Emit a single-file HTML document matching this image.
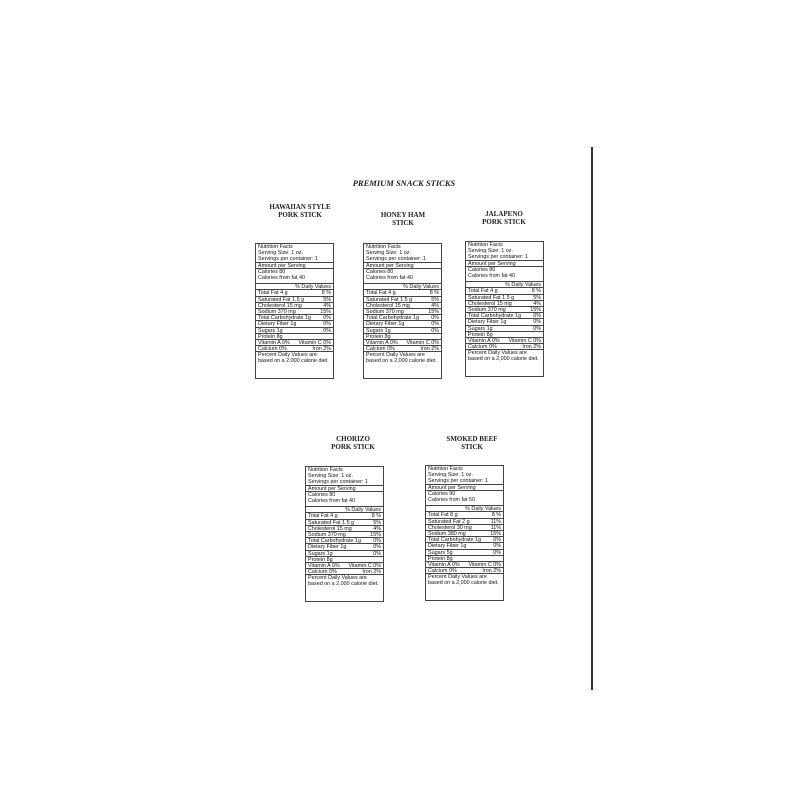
<!DOCTYPE html>
<html><head><meta charset="utf-8"><style>
body{margin:0;width:800px;height:800px;background:#fff;position:relative;overflow:hidden;font-family:"Liberation Sans",sans-serif;color:#111}
.t{position:absolute;font-family:"Liberation Serif",serif;font-weight:bold;font-size:7px;text-align:center;line-height:8px;color:#222;width:120px}
.box{position:absolute;width:77px;border:1px solid #444;font-size:5.4px;line-height:6px;color:#111}
.box div{border-bottom:1px solid #444;padding:0 2px;height:5.2px;white-space:nowrap;overflow:hidden;display:flex;justify-content:space-between}
.box div.h{height:18px;display:block;white-space:normal}
.box div.c{height:14px;display:block}
.box div.r{justify-content:flex-end}
.box div.e{border:none;height:26px;display:block;white-space:normal}
</style></head><body>
<div style="position:absolute;left:304px;top:178px;width:200px;text-align:center;font-family:'Liberation Serif',serif;font-weight:bold;font-style:italic;font-size:8.5px;color:#222">PREMIUM SNACK STICKS</div>
<div style="position:absolute;left:591px;top:147px;width:1.5px;height:543px;background:#333"></div>

<div class="t" style="left:240px;top:203px">HAWAIIAN STYLE<br>PORK STICK</div>
<div class="t" style="left:343px;top:211px">HONEY HAM<br>STICK</div>
<div class="t" style="left:444px;top:210px">JALAPENO<br>PORK STICK</div>
<div class="t" style="left:293px;top:435px">CHORIZO<br>PORK STICK</div>
<div class="t" style="left:412px;top:435px">SMOKED BEEF<br>STICK</div>

<div class="box" style="left:255px;top:243px">
<div class="h">Nutrition Facts<br>Serving Size: 1 oz.<br>Servings per container: 1</div>
<div>Amount per Serving</div>
<div class="c">Calories 80<br>Calories from fat 40</div>
<div class="r">% Daily Values</div>
<div><span>Total Fat 4 g</span><span>8 %</span></div>
<div><span>Saturated Fat 1.5 g</span><span>5%</span></div>
<div><span>Cholesterol 15 mg</span><span>4%</span></div>
<div><span>Sodium 370 mg</span><span>15%</span></div>
<div><span>Total Carbohydrate 1g</span><span>0%</span></div>
<div><span>Dietary Fiber 1g</span><span>0%</span></div>
<div><span>Sugars 1g</span><span>0%</span></div>
<div>Protein 8g</div>
<div><span>Vitamin A 0%</span><span>Vitamin C 0%</span></div>
<div><span>Calcium 0%</span><span>Iron 2%</span></div>
<div class="e">Percent Daily Values are based on a 2,000 calorie diet.</div>
</div>

<div class="box" style="left:363px;top:243px">
<div class="h">Nutrition Facts<br>Serving Size: 1 oz.<br>Servings per container: 1</div>
<div>Amount per Serving</div>
<div class="c">Calories 80<br>Calories from fat 40</div>
<div class="r">% Daily Values</div>
<div><span>Total Fat 4 g</span><span>8 %</span></div>
<div><span>Saturated Fat 1.5 g</span><span>5%</span></div>
<div><span>Cholesterol 15 mg</span><span>4%</span></div>
<div><span>Sodium 370 mg</span><span>15%</span></div>
<div><span>Total Carbohydrate 1g</span><span>0%</span></div>
<div><span>Dietary Fiber 1g</span><span>0%</span></div>
<div><span>Sugars 1g</span><span>0%</span></div>
<div>Protein 8g</div>
<div><span>Vitamin A 0%</span><span>Vitamin C 0%</span></div>
<div><span>Calcium 0%</span><span>Iron 2%</span></div>
<div class="e">Percent Daily Values are based on a 2,000 calorie diet.</div>
</div>

<div class="box" style="left:465px;top:241px">
<div class="h">Nutrition Facts<br>Serving Size: 1 oz.<br>Servings per container: 1</div>
<div>Amount per Serving</div>
<div class="c">Calories 80<br>Calories from fat 40</div>
<div class="r">% Daily Values</div>
<div><span>Total Fat 4 g</span><span>8 %</span></div>
<div><span>Saturated Fat 1.5 g</span><span>5%</span></div>
<div><span>Cholesterol 15 mg</span><span>4%</span></div>
<div><span>Sodium 370 mg</span><span>15%</span></div>
<div><span>Total Carbohydrate 1g</span><span>0%</span></div>
<div><span>Dietary Fiber 1g</span><span>0%</span></div>
<div><span>Sugars 1g</span><span>0%</span></div>
<div>Protein 8g</div>
<div><span>Vitamin A 0%</span><span>Vitamin C 0%</span></div>
<div><span>Calcium 0%</span><span>Iron 2%</span></div>
<div class="e">Percent Daily Values are based on a 2,000 calorie diet.</div>
</div>

<div class="box" style="left:305px;top:466px">
<div class="h">Nutrition Facts<br>Serving Size: 1 oz.<br>Servings per container: 1</div>
<div>Amount per Serving</div>
<div class="c">Calories 80<br>Calories from fat 40</div>
<div class="r">% Daily Values</div>
<div><span>Total Fat 4 g</span><span>8 %</span></div>
<div><span>Saturated Fat 1.5 g</span><span>5%</span></div>
<div><span>Cholesterol 15 mg</span><span>4%</span></div>
<div><span>Sodium 370 mg</span><span>15%</span></div>
<div><span>Total Carbohydrate 1g</span><span>0%</span></div>
<div><span>Dietary Fiber 1g</span><span>0%</span></div>
<div><span>Sugars 1g</span><span>0%</span></div>
<div>Protein 8g</div>
<div><span>Vitamin A 0%</span><span>Vitamin C 0%</span></div>
<div><span>Calcium 0%</span><span>Iron 2%</span></div>
<div class="e">Percent Daily Values are based on a 2,000 calorie diet.</div>
</div>

<div class="box" style="left:425px;top:465px">
<div class="h">Nutrition Facts<br>Serving Size: 1 oz.<br>Servings per container: 1</div>
<div>Amount per Serving</div>
<div class="c">Calories 90<br>Calories from fat 50</div>
<div class="r">% Daily Values</div>
<div><span>Total Fat 8 g</span><span>8 %</span></div>
<div><span>Saturated Fat 2 g</span><span>11%</span></div>
<div><span>Cholesterol 30 mg</span><span>11%</span></div>
<div><span>Sodium 380 mg</span><span>15%</span></div>
<div><span>Total Carbohydrate 1g</span><span>0%</span></div>
<div><span>Dietary Fiber 1g</span><span>0%</span></div>
<div><span>Sugars 5g</span><span>0%</span></div>
<div>Protein 8g</div>
<div><span>Vitamin A 0%</span><span>Vitamin C 0%</span></div>
<div><span>Calcium 0%</span><span>Iron 2%</span></div>
<div class="e">Percent Daily Values are based on a 2,000 calorie diet.</div>
</div>
</body></html>
